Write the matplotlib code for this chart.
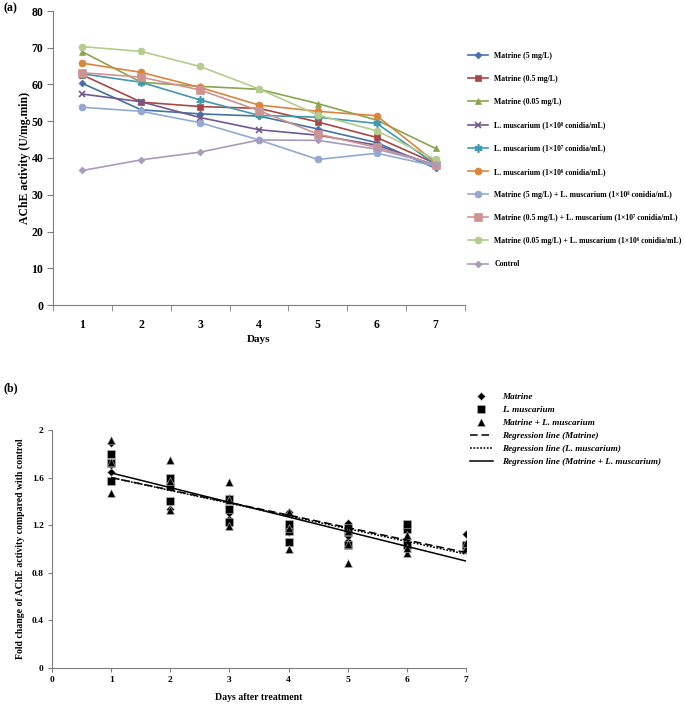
import numpy as np
import matplotlib
matplotlib.use("Agg")
import matplotlib.pyplot as plt

plt.rcParams['font.family'] = ['Liberation Serif', 'DejaVu Serif']
plt.rcParams['font.weight'] = 'bold'

# ---------------- Panel (a) data ----------------
days = [1, 2, 3, 4, 5, 6, 7]
series_labels = [
    "Matrine (5 mg/L)",
    "Matrine (0.5 mg/L)",
    "Matrine (0.05 mg/L)",
    "L. muscarium (1×10⁸ conidia/mL)",
    "L. muscarium (1×10⁷ conidia/mL)",
    "L. muscarium (1×10⁶ conidia/mL)",
    "Matrine (5 mg/L) + L. muscarium (1×10⁸ conidia/mL)",
    "Matrine (0.5 mg/L) + L. muscarium (1×10⁷ conidia/mL)",
    "Matrine (0.05 mg/L) + L. muscarium (1×10⁶ conidia/mL)",
    "Control",
]
matrine_5 = [60.3, 53.1, 52.0, 51.4, 47.9, 44.2, 37.2]
matrine_05 = [62.6, 55.2, 54.0, 53.5, 49.8, 45.6, 38.5]
matrine_005 = [68.9, 60.6, 59.5, 58.7, 54.8, 50.3, 42.6]
lm_1e8 = [57.4, 55.3, 51.0, 47.7, 46.2, 43.5, 38.0]
lm_1e7 = [62.9, 60.6, 55.8, 51.6, 51.1, 49.4, 38.3]
lm_1e6 = [65.8, 63.3, 59.2, 54.4, 52.7, 51.5, 38.8]
combo_5 = [53.8, 52.7, 49.6, 44.9, 39.6, 41.3, 37.8]
combo_05 = [63.2, 62.0, 58.5, 52.9, 46.5, 42.9, 38.2]
combo_005 = [70.3, 69.0, 64.9, 58.8, 51.7, 47.4, 39.6]
control = [36.6, 39.5, 41.6, 44.9, 44.8, 42.4, 38.3]
series_values = [matrine_5, matrine_05, matrine_005, lm_1e8, lm_1e7, lm_1e6,
                 combo_5, combo_05, combo_005, control]
colors = ["#4572A7", "#AA4643", "#89A54E", "#71588F", "#4198AF", "#DB843D",
          "#93A9CF", "#D19392", "#B4CC8C", "#A99BBD"]
markers = ["D", "s", "^", "x", (6, 2, 0), "o", "o", "s", "o", "D"]
msizes = [3.5, 5, 5, 5, 6, 5, 5, 5.5, 5, 3.5]

# ---------------- Panel (b) data ----------------
fc_matrine = {
    1: [1.65, 1.71, 1.89], 2: [1.34, 1.40, 1.53], 3: [1.25, 1.30, 1.43],
    4: [1.14, 1.19, 1.31], 5: [1.07, 1.11, 1.22], 6: [1.04, 1.08, 1.19],
    7: [0.99, 1.02, 1.13],
}
fc_lm = {
    1: [1.57, 1.72, 1.80], 2: [1.40, 1.53, 1.60], 3: [1.23, 1.34, 1.42],
    4: [1.06, 1.15, 1.21], 5: [1.03, 1.14, 1.18], 6: [1.03, 1.17, 1.21],
    7: [1.00, 1.02, 1.03],
}
fc_combo = {
    1: [1.47, 1.73, 1.92], 2: [1.33, 1.57, 1.75], 3: [1.19, 1.41, 1.56],
    4: [1.00, 1.18, 1.31], 5: [0.88, 1.04, 1.15], 6: [0.97, 1.01, 1.12],
    7: [1.00, 1.01, 1.05],
}

W, H = 685, 706
fig = plt.figure(figsize=(W / 100, H / 100), dpi=100)

def fx(px):
    return px / W

def fy(py):
    return 1 - py / H

spine_col = "#7f7f7f"

# ---------------- Panel (a) ----------------
ax1 = fig.add_axes([fx(53), fy(305), fx(465) - fx(53), fy(11) - fy(305)])
for lab, vals, c, m, ms in zip(series_labels, series_values, colors, markers, msizes):
    ax1.plot(days, vals, color=c, marker=m, markersize=ms, linewidth=1.2,
             markeredgewidth=1.2 if m in ("x", (6, 2, 0)) else 0.5,
             markeredgecolor=c, label=lab)
ax1.set_xlim(0.5, 7.5)
ax1.set_ylim(0, 80)
ax1.set_yticks(np.arange(0, 81, 10))
ax1.set_xticks(days)
ax1.set_xticks(np.arange(0.5, 7.6, 1), minor=True)
ax1.tick_params(axis='x', which='major', length=0, pad=10, labelsize=8.5)
ax1.tick_params(axis='x', which='minor', length=4, direction='out', color=spine_col)
ax1.tick_params(axis='y', length=4, direction='out', color=spine_col, labelsize=8.5, pad=3)
for s in ("top", "right"):
    ax1.spines[s].set_visible(False)
for s in ("left", "bottom"):
    ax1.spines[s].set_color(spine_col)
ax1.set_xlabel("Days", fontsize=8, fontweight='bold', labelpad=3)
ax1.set_ylabel("AChE activity (U/mg.min)", fontsize=8.5, fontweight='bold', labelpad=0)

fig.legend(*ax1.get_legend_handles_labels(), loc='upper left',
           bbox_to_anchor=(fx(464), fy(48)), frameon=False,
           labelspacing=1.95, handlelength=2.6, handletextpad=0.8, borderpad=0,
           prop={'family': ['Liberation Serif', 'DejaVu Serif'], 'weight': 'bold', 'size': 5.6})

fig.text(fx(4), fy(8), "(a)", fontsize=8.5, fontweight='bold', va='center', ha='left')

# ---------------- Panel (b) ----------------
ax2 = fig.add_axes([fx(52), fy(668), fx(466) - fx(52), fy(430) - fy(668)])
groups = [(fc_matrine, "D", 4.2, "Matrine"),
          (fc_lm, "s", 5.2, "L. muscarium"),
          (fc_combo, "^", 5.2, "Matrine + L. muscarium")]
for data, m, ms, lab in groups:
    xs = [d for d in days for _ in data[d]]
    ys = [v for d in days for v in data[d]]
    ax2.plot(xs, ys, linestyle='none', marker=m, markersize=ms, color='black',
             markeredgecolor='#bbbbbb', markeredgewidth=0.4, label=lab)

line_styles = [(fc_matrine, (0, (5, 2.5)), "Regression line (Matrine)"),
               (fc_lm, (0, (1.2, 1.0)), "Regression line (L. muscarium)"),
               (fc_combo, '-', "Regression line (Matrine + L. muscarium)")]
xline = np.array([days[0], days[-1]])
for data, ls, lab in line_styles:
    xs = np.array([d for d in days for _ in data[d]], dtype=float)
    ys = np.array([v for d in days for v in data[d]])
    k, b = np.polyfit(xs, ys, 1)
    ax2.plot(xline, k * xline + b, color='black', linestyle=ls, linewidth=1.1, label=lab)

ax2.set_xlim(0, 7)
ax2.set_ylim(0, 2)
ax2.set_xticks(range(0, 8))
ax2.set_yticks([0, 0.4, 0.8, 1.2, 1.6, 2.0])
ax2.set_yticklabels(["0", "0.4", "0.8", "1.2", "1.6", "2"])
ax2.tick_params(axis='both', length=3, direction='out', color=spine_col, labelsize=6.8, pad=3)
for s in ("top", "right"):
    ax2.spines[s].set_visible(False)
for s in ("left", "bottom"):
    ax2.spines[s].set_color(spine_col)
ax2.set_xlabel("Days after treatment", fontsize=7, fontweight='bold', labelpad=6)
ax2.set_ylabel("Fold change of AChE activity compared with control", fontsize=7,
               fontweight='bold', labelpad=5)

fig.legend(*ax2.get_legend_handles_labels(), loc='upper left',
           bbox_to_anchor=(fx(465), fy(388)), frameon=False,
           labelspacing=0.5, handlelength=2.6, handletextpad=0.9, borderpad=0,
           prop={'family': ['Liberation Serif', 'DejaVu Serif'], 'weight': 'bold',
                 'style': 'italic', 'size': 6.6})

fig.text(fx(4), fy(388), "(b)", fontsize=8.5, fontweight='bold', va='center', ha='left')

fig.savefig("out.png", dpi=100)
